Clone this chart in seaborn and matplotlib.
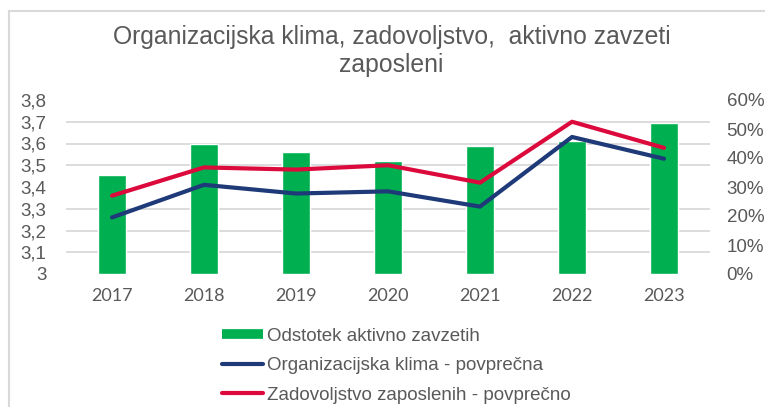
import numpy as np
import pandas as pd
import matplotlib
matplotlib.use("Agg")
import matplotlib.pyplot as plt
from matplotlib.lines import Line2D
from matplotlib.ticker import FixedLocator, FuncFormatter, PercentFormatter
import seaborn as sns

# data
years = ["2017", "2018", "2019", "2020", "2021", "2022", "2023"]
pct_engaged = [0.34, 0.45, 0.42, 0.39, 0.44, 0.46, 0.52]
org_climate = [3.26, 3.41, 3.37, 3.38, 3.31, 3.63, 3.53]
satisfaction = [3.36, 3.49, 3.48, 3.50, 3.42, 3.70, 3.58]

left_ticks = [3.0, 3.1, 3.2, 3.3, 3.4, 3.5, 3.6, 3.7, 3.8]
right_ticks = [0, 0.1, 0.2, 0.3, 0.4, 0.5, 0.6]

title = "Organizacijska klima, zadovoljstvo,  aktivno zavzeti\nzaposleni"
labels = ["Odstotek aktivno zavzetih",
          "Organizacijska klima - povprečna",
          "Zadovoljstvo zaposlenih - povprečno"]

green = "#00B050"
navy = "#1F3A78"
crimson = "#DC0A3C"
grey_txt = "#595959"
grid_col = "#D9D9D9"

df = pd.DataFrame({"year": years, "pct": pct_engaged,
                   "klima": org_climate, "zad": satisfaction})

sns.set_theme(style="white")
plt.rcParams["font.family"] = ["Liberation Sans", "DejaVu Sans"]

fig = plt.figure(figsize=(7.65, 4.07), dpi=100)
ax = fig.add_axes([66 / 765, 1 - 274 / 407, 644 / 765, 174 / 407])
ax2 = ax.twinx()

# bars on the secondary (percent) axis
sns.barplot(data=df, x="year", y="pct", ax=ax2, color=green, width=0.31,
            saturation=1, zorder=2)
ax2.set_ylim(0, 0.6)
ax2.yaxis.set_major_locator(FixedLocator(right_ticks))
ax2.yaxis.set_major_formatter(PercentFormatter(1.0, decimals=0))
# gridlines follow the left axis divisions
ax2.yaxis.set_minor_locator(FixedLocator(np.linspace(0, 0.6, len(left_ticks))))
ax2.grid(which="minor", axis="y", color=grid_col, lw=1.3, zorder=0)
ax2.grid(which="major", visible=False)
ax2.set_axisbelow(True)
ax2.tick_params(axis="y", which="both", length=0, pad=12, labelsize=13.5,
                labelcolor=grey_txt)
ax2.set_ylabel("")

# lines on the primary axis, drawn above the bars
sns.lineplot(data=df, x="year", y="klima", ax=ax, color=navy, lw=3,
             solid_capstyle="round", sort=False)
sns.lineplot(data=df, x="year", y="zad", ax=ax, color=crimson, lw=3,
             solid_capstyle="round", sort=False)
ax.set_ylim(3.0, 3.8)
ax.yaxis.set_major_locator(FixedLocator(left_ticks))
ax.yaxis.set_major_formatter(FuncFormatter(lambda v, p: f"{v:g}".replace(".", ",")))
ax.tick_params(axis="y", length=0, pad=14, labelsize=13.5, labelcolor=grey_txt)
ax.tick_params(axis="x", length=0, pad=10, labelsize=13, labelcolor=grey_txt)
for t in ax.get_xticklabels():
    t.set_fontfamily(["Lato", "DejaVu Sans"])
ax.set_xlim(-0.5, len(years) - 0.5)
ax.set_xlabel("")
ax.set_ylabel("")
ax.set_zorder(ax2.get_zorder() + 1)
ax.patch.set_visible(False)

for a in (ax, ax2):
    for s in a.spines.values():
        s.set_visible(False)

fig.text(0.512, 1 - 51 / 407, title, ha="center", va="center", fontsize=17.8,
         color=grey_txt, linespacing=1.2)

handles = [Line2D([], [], color=green, lw=7, solid_capstyle="butt"),
           Line2D([], [], color=navy, lw=3, solid_capstyle="round"),
           Line2D([], [], color=crimson, lw=3, solid_capstyle="round")]
leg = fig.legend(handles, labels, loc="upper left",
                 bbox_to_anchor=(205 / 765, 1 - 311 / 407), frameon=False,
                 fontsize=13.5, handlelength=2.2, handletextpad=0.2,
                 labelspacing=0.66, labelcolor=grey_txt)

# chart frame (top and left edges visible in the crop)
fig.add_artist(Line2D([8.5 / 765, 1], [1 - 11 / 407, 1 - 11 / 407],
                      color="#D9D9D9", lw=1.5, transform=fig.transFigure))
fig.add_artist(Line2D([8.5 / 765, 8.5 / 765], [0, 1 - 11 / 407],
                      color="#D9D9D9", lw=1.5, transform=fig.transFigure))

fig.savefig("out.png", dpi=100)
